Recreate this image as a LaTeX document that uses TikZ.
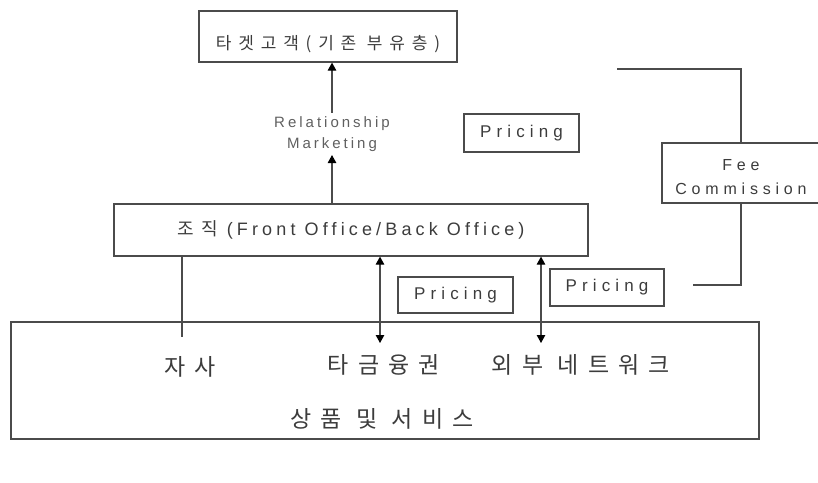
\documentclass[tikz,border=0pt]{standalone}
\usepackage{fontspec}
\setmainfont{Liberation Sans}
\newfontfamily\krfont{Noto Sans CJK KR}[LetterSpace=40]
\newfontfamily\enfont{Liberation Sans}[LetterSpace=30]
\usetikzlibrary{arrows.meta}
\definecolor{linegray}{RGB}{75, 75, 75}
\definecolor{textgray}{RGB}{60, 60, 60}
\definecolor{lightgray}{RGB}{95, 95, 95}

\begin{document}
\begin{tikzpicture}[x = 1pt, y = -1pt,
	box/.style = {draw = linegray, line width = 1.2pt, inner sep = 0pt, text = textgray, align = center},
	conn/.style = {draw = linegray, line width = 1.1pt},
	tip/.style = {-{Triangle[width = 8.5pt, length = 8pt, color = black]}},
	bothtips/.style = {{Triangle[width = 8.5pt, length = 8pt, color = black]}-{Triangle[width = 8.5pt, length = 8pt, color = black]}}]
	\useasboundingbox (0, 0) rectangle (818, 482);
	% boxes
	\node[box, minimum width = 258pt, minimum height = 51pt, text height = 25pt, text depth = 0pt, font = \fontsize{17}{20}\selectfont\krfont] (target) at (328, 36.5) {타겟고객(기존 부유층)};
	\node[box, minimum width = 474pt, minimum height = 52pt, font = \fontsize{18}{21}\selectfont] (org) at (351, 230) {{\krfont 조직}\hspace{4pt} {\enfont\addfontfeatures{LetterSpace=23}(Front Office/Back Office)}};
	\node[box, minimum width = 748pt, minimum height = 117pt] (goods) at (385, 380.5) {};
	\node[box, minimum width = 115pt, minimum height = 38pt, font = \fontsize{17}{20}\selectfont\enfont] (price1) at (521.5, 133) {Pricing};
	\node[box, minimum width = 115pt, minimum height = 36pt, font = \fontsize{17}{20}\selectfont\enfont] (price2) at (455.5, 295) {Pricing};
	\node[box, minimum width = 114pt, minimum height = 37pt, font = \fontsize{17}{20}\selectfont\enfont] (price3) at (607, 287.5) {Pricing};
	\node[box, minimum width = 158pt, minimum height = 60pt, font = \fontsize{16}{24}\selectfont\enfont] (fee) at (741, 173) {\rule{0pt}{20pt}Fee\\Commission};
	% texts
	\node[text = lightgray, align = center, font = \fontsize{15}{21}\selectfont\enfont\addfontfeatures{LetterSpace=20}] (rel) at (332, 134) {Relationship\\Marketing};
	\node[text = textgray, font = \fontsize{23}{26}\selectfont\krfont] (self) at (190, 367) {자사};
	\node[text = textgray, font = \fontsize{23}{26}\selectfont\krfont] (other) at (384, 365) {타금융권};
	\node[text = textgray, font = \fontsize{23}{26}\selectfont\krfont] (net) at (581, 365) {외부 네트워크};
	\node[text = textgray, font = \fontsize{23}{26}\selectfont\krfont] (service) at (382, 419) {상품 및 서비스};
	% free ends
	\coordinate (selfend) at (182, 337);
	\coordinate (otherend) at (380, 343);
	\coordinate (netend) at (541, 343);
	\coordinate (feetop) at (617, 69);
	\coordinate (feebottom) at (693, 285);
	% connectors
	\draw[conn, tip] (rel.north) -- (rel.north |- target.south);
	\draw[conn, tip] (rel.south |- org.north) -- (rel.south);
	\draw[conn] (selfend |- org.south) -- (selfend);
	\draw[conn, bothtips] (otherend |- org.south) -- (otherend);
	\draw[conn, bothtips] (netend |- org.south) -- (netend);
	\draw[conn] (feetop) -- (feetop -| fee.north) -- (fee.north);
	\draw[conn] (fee.south) -- (fee.south |- feebottom) -- (feebottom);
\end{tikzpicture}
\end{document}
